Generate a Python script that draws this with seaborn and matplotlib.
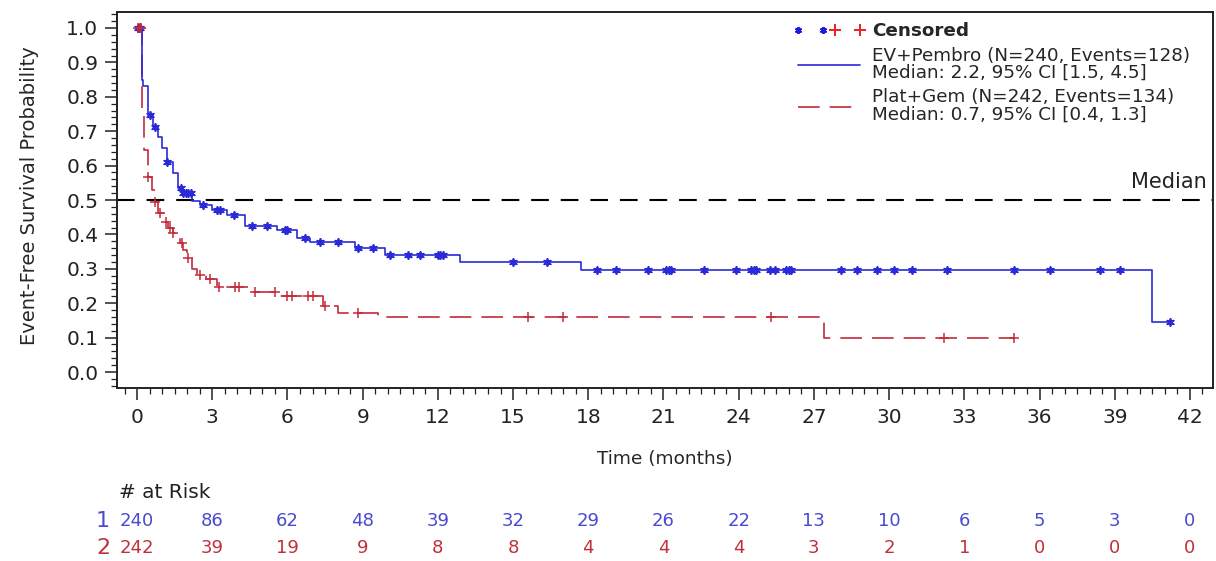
import numpy as np
import pandas as pd
import matplotlib
matplotlib.use("Agg")
import matplotlib.pyplot as plt
import matplotlib.transforms as mtransforms
from matplotlib.lines import Line2D
from matplotlib.legend_handler import HandlerTuple
from matplotlib.ticker import MultipleLocator, FormatStrFormatter
import seaborn as sns

# ---------------- data ----------------
ev_step_times = [0.0, 0.2, 0.25, 0.45, 0.65, 0.85, 0.98, 1.18, 1.45, 1.65, 1.85, 2.2,
                 2.5, 3.0, 3.6, 4.3, 5.6, 6.4, 6.9, 8.7, 9.9, 12.9, 17.7, 40.5]
ev_step_surv = [1.0, 0.85, 0.83, 0.747, 0.713, 0.684, 0.650, 0.611, 0.578, 0.534, 0.519, 0.497,
                0.485, 0.470, 0.455, 0.425, 0.413, 0.39, 0.378, 0.36, 0.34, 0.32, 0.297, 0.145]
ev_censor_times = [0.03, 0.08, 0.13, 0.5, 0.7, 1.2, 1.75, 1.85, 1.95, 2.05, 2.15, 2.65,
                   3.2, 3.3, 3.85, 4.6, 5.2, 5.9, 6.0, 6.7, 7.3, 8.0, 8.8, 9.4, 10.1,
                   10.8, 11.3, 12.0, 12.1, 12.2, 15.0, 16.35, 18.35, 19.1, 20.4, 21.1,
                   21.2, 21.3, 22.6, 23.9, 24.5, 24.6, 24.7, 25.25, 25.45, 25.9, 26.0,
                   26.1, 28.1, 28.7, 29.5, 30.2, 30.9, 32.3, 35.0, 36.4, 38.4, 39.2, 41.2]
ev_last_time = 41.2

pg_step_times = [0.0, 0.2, 0.27, 0.45, 0.6, 0.7, 0.85, 1.05, 1.25, 1.45, 1.7, 1.85, 2.0,
                 2.2, 2.4, 2.75, 3.2, 4.5, 5.6, 7.4, 8.0, 9.6, 27.4]
pg_step_surv = [1.0, 0.76, 0.645, 0.567, 0.53, 0.495, 0.462, 0.436, 0.42, 0.405, 0.375,
                0.355, 0.33, 0.30, 0.282, 0.27, 0.247, 0.233, 0.222, 0.192, 0.172, 0.16, 0.10]
pg_censor_times = [0.05, 0.1, 0.15, 0.45, 0.7, 0.9, 1.15, 1.3, 1.45, 1.8, 2.05, 2.5, 2.9,
                   3.25, 3.9, 4.05, 4.7, 5.5, 6.0, 6.2, 6.8, 7.0, 7.5, 8.8, 15.6, 17.0,
                   25.3, 32.2, 35.0]
pg_last_time = 35.0

risk_times = [0, 3, 6, 9, 12, 15, 18, 21, 24, 27, 30, 33, 36, 39, 42]
risk_ev = [240, 86, 62, 48, 39, 32, 29, 26, 22, 13, 10, 6, 5, 3, 0]
risk_pg = [242, 39, 19, 9, 8, 8, 4, 4, 4, 3, 2, 1, 0, 0, 0]

legend_labels = ["Censored",
                 "EV+Pembro (N=240, Events=128)\nMedian: 2.2, 95% CI [1.5, 4.5]",
                 "Plat+Gem (N=242, Events=134)\nMedian: 0.7, 95% CI [0.4, 1.3]"]
median_level = 0.5

# ---------------- style ----------------
sns.set_style("ticks")
plt.rcParams['font.family'] = ['DejaVu Sans']

BLUE = "#2a2ad8"
RED = "#c42b3a"
BLUE_TXT = "#4a4ad0"
RED_TXT = "#c0303c"


def km_frame(times, surv, last):
    t = list(times) + [last]
    s = list(surv) + [surv[-1]]
    return pd.DataFrame({"time": t, "surv": s})


def censor_frame(times, surv, ctimes):
    idx = np.searchsorted(np.asarray(times), np.asarray(ctimes), side="right") - 1
    return pd.DataFrame({"time": ctimes, "surv": np.asarray(surv)[idx]})


fig = plt.figure(figsize=(12.16, 5.61), dpi=100)
ax = fig.add_axes([117 / 1216, 1 - 388 / 561, (1213 - 117) / 1216, (388 - 12) / 561])

ev_df = km_frame(ev_step_times, ev_step_surv, ev_last_time)
pg_df = km_frame(pg_step_times, pg_step_surv, pg_last_time)
ev_c = censor_frame(ev_step_times, ev_step_surv, ev_censor_times)
pg_c = censor_frame(pg_step_times, pg_step_surv, pg_censor_times)

ax.axhline(median_level, color="black", lw=1.5, linestyle=(0, (8.5, 5.7)), zorder=1)

sns.lineplot(data=pg_df, x="time", y="surv", drawstyle="steps-post", color=RED,
             lw=1.2, linestyle=(0, (13, 6)), estimator=None, sort=False, ax=ax, zorder=2)
sns.lineplot(data=ev_df, x="time", y="surv", drawstyle="steps-post", color=BLUE,
             lw=1.2, estimator=None, sort=False, ax=ax, zorder=2)

AST = (6, 2, 0)
sns.scatterplot(data=ev_c, x="time", y="surv", marker=AST, color=BLUE, edgecolor=BLUE,
                s=26, linewidth=1.3, ax=ax, zorder=3)
sns.scatterplot(data=pg_c, x="time", y="surv", marker="+", color=RED, edgecolor=RED,
                s=50, linewidth=1.1, ax=ax, zorder=3)

# axes
ax.set_xlim(-0.8, 42.92)
ax.set_ylim(-0.0465, 1.0465)
ax.xaxis.set_major_locator(MultipleLocator(3))
ax.xaxis.set_minor_locator(MultipleLocator(0.5))
ax.yaxis.set_major_locator(MultipleLocator(0.1))
ax.yaxis.set_minor_locator(MultipleLocator(0.02))
ax.yaxis.set_major_formatter(FormatStrFormatter("%.1f"))
ax.tick_params(axis="both", which="major", length=8.5, width=1.1, labelsize=14.5,
               direction="out", color="#222222", labelcolor="#222222")
ax.tick_params(axis="both", which="minor", length=4.5, width=0.9, direction="out",
               color="#222222")
ax.tick_params(axis="x", which="major", pad=6)
ax.tick_params(axis="y", which="major", pad=5)
for sp in ax.spines.values():
    sp.set_visible(True)
    sp.set_linewidth(1.4)
    sp.set_color("#222222")

ax.set_xlabel("Time (months)", fontsize=13.3)
ax.set_ylabel("Event-Free Survival Probability", fontsize=14)
ax.xaxis.set_label_coords(0.5, -0.165)
ax.yaxis.set_label_coords(-0.0712, 0.511)

ax.text(0.9945, 0.535, "Median", transform=ax.get_yaxis_transform(), ha="right",
        va="baseline", fontsize=15, color="#222222")

# legend
h_cens = (Line2D([], [], linestyle="none", marker=AST, color="#1a1ae0", markersize=5, mew=1.4),
          Line2D([], [], linestyle="none", marker="+", color="#ee1c25", markersize=9, mew=1.4))
h_ev = Line2D([], [], color=BLUE, lw=1.2)
h_pg = Line2D([], [], color=RED, lw=1.2, linestyle=(0, (13, 6)))
leg = ax.legend([h_cens, h_ev, h_pg], legend_labels, loc="upper right",
                bbox_to_anchor=(0.979, 0.973), frameon=False, borderpad=0,
                borderaxespad=0, fontsize=13.2, handlelength=4.0, handletextpad=0.33,
                labelspacing=0.35, numpoints=2,
                handler_map={tuple: HandlerTuple(ndivide=None, pad=0.05)})
txts = leg.get_texts()
txts[0].set_fontweight("bold")
for t in txts[1:]:
    t.set_linespacing(0.95)

# risk table
tr = mtransforms.blended_transform_factory(ax.transData, fig.transFigure)
fig.text(119 / 1216, 1 - 492 / 561, "# at Risk", ha="left", va="center", fontsize=14.5,
         color="#222222")
fig.text(103 / 1216, 1 - 521 / 561, "1", ha="center", va="center", fontsize=16, color=BLUE_TXT)
fig.text(103 / 1216, 1 - 548 / 561, "2", ha="center", va="center", fontsize=16, color=RED_TXT)
for t, n in zip(risk_times, risk_ev):
    ax.text(t, 1 - 521 / 561, str(n), transform=tr, ha="center", va="center",
            fontsize=13, color=BLUE_TXT)
for t, n in zip(risk_times, risk_pg):
    ax.text(t, 1 - 548 / 561, str(n), transform=tr, ha="center", va="center",
            fontsize=13, color=RED_TXT)

fig.savefig("out.png", dpi=100)
